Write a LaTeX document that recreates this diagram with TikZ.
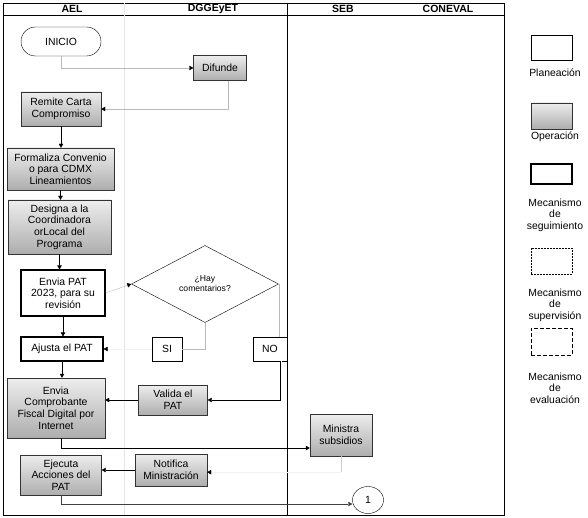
\documentclass[tikz,border=0pt]{standalone}
\usepackage{fontspec}
\setmainfont{Liberation Sans}
\usetikzlibrary{arrows.meta,shapes.geometric}

\begin{document}
\begin{tikzpicture}[x=1pt,y=-1pt,
    font=\fontsize{10.4}{11.6}\selectfont,
    head/.style={font=\fontsize{10.5}{12}\selectfont\bfseries},
    opbox/.style={rectangle, draw=black!80, top color=black!7, bottom color=black!32, align=center, inner sep=0pt},
    planbox/.style={rectangle, draw, line width=1.2pt, fill=white, align=center, inner sep=0pt},
    optbox/.style={rectangle, draw, fill=white, align=center, inner sep=0pt},
    arr/.style={-{Triangle[length=4pt,width=4.5pt]}},
    garr/.style={draw=gray!55, -{Triangle[length=4pt,width=4.5pt,color=black]}},
    faint/.style={draw=gray!10, -{Triangle[length=4pt,width=4.5pt,color=black]}},
    gline/.style={draw=gray!55}]

\useasboundingbox (0,0) rectangle (588,518);

% Lanes
\draw (3,3) rectangle (504,515);
\draw (3,15) -- (504,15);
\draw[gray!20] (124,3) -- (124,515);
\draw (287,3) -- (287,515);

\node[head] (hael) at (72,9) {AEL};
\node[head] (hdgg) at (213,9) {DGGEyET};
\node[head] (hseb) at (343,9) {SEB};
\node[head] (hcon) at (448,9) {CONEVAL};

% Steps
\node[draw, rounded corners=14.5pt, minimum width=80, minimum height=29] (inicio) at (61,41.5) {INICIO};
\node[opbox, minimum width=53, minimum height=25] (difunde) at (220,68) {Difunde};
\node[opbox, minimum width=80, minimum height=34] (remite) at (61,109) {Remite Carta\\Compromiso};
\node[opbox, minimum width=107, minimum height=42] (formaliza) at (60.5,169) {Formaliza Convenio\\o para CDMX\\Lineamientos};
\node[opbox, minimum width=103, minimum height=54] (designa) at (59.5,227) {Designa a la\\Coordinadora\\orLocal del\\Programa};
\node[planbox, minimum width=84, minimum height=46] (envia) at (63,293) {Envia PAT\\2023, para su\\revisión};
\node[diamond, draw, fill=white, inner sep=0pt, minimum width=147, minimum height=77,
      align=center, font=\fontsize{8.6}{10}\selectfont] (hay) at (205,284) {¿Hay\\comentarios?};
\node[planbox, minimum width=82, minimum height=24] (ajusta) at (62,349) {Ajusta el PAT};
\node[optbox, minimum width=30, minimum height=24] (si) at (167,349) {SI};
\node[optbox, minimum width=34, minimum height=24] (no) at (270,349) {NO};
\node[opbox, minimum width=69, minimum height=30] (valida) at (173,400) {Valida el\\PAT};
\node[opbox, minimum width=98, minimum height=60] (comprob) at (56,408) {Envia\\Comprobante\\Fiscal Digital por\\Internet};
\node[opbox, minimum width=62, minimum height=42] (ministra) at (341,435) {Ministra\\subsidios};
\node[opbox, minimum width=72, minimum height=32] (notifica) at (171,470) {Notifica\\Ministración};
\node[opbox, minimum width=81, minimum height=40] (ejecuta) at (61,475) {Ejecuta\\Acciones del\\PAT};
\node[ellipse, draw, fill=white, minimum width=31, minimum height=27, inner sep=0pt] (uno) at (368,500) {1};

% Connectors
\draw[garr] (inicio.south) |- (difunde.west);
\draw[garr] ([xshift=8pt]difunde.south) |- (remite.east);
\draw[arr] (remite.south) -- (remite.south |- formaliza.north);
\draw[arr] (formaliza.south) -- (formaliza.south |- designa.north);
\draw[arr] (designa.south) -- (designa.south |- envia.north);
\draw[garr] (envia.east) -- (hay.west);
\draw[arr] (envia.south) -- (envia.south |- ajusta.north);
\draw[gline] (hay.south) |- (si.east);
\draw[faint] (si.west) -- (ajusta.east);
\draw[gline] (hay.east) -- (hay.east |- no.north);
\draw[double, double distance=1pt] ([xshift=11pt]no.south) -- ([xshift=11pt]no.south |- valida.east) coordinate (nv);
\draw[arr] (nv) -- (valida.east);
\draw[arr] (valida.west) -- (valida.west -| comprob.east);
\draw[arr] (ajusta.south) -- (ajusta.south |- comprob.north);
\draw[arr] ([xshift=5pt]comprob.south) |- ([yshift=-13pt]ministra.west);
\draw[gray!40] (ministra.south) -- ++(0,16) coordinate (mb);
\draw[faint] (mb) -- (mb -| notifica.east);
\draw[arr] (notifica.west) -- (notifica.west -| ejecuta.east);
\draw[arr, draw=black!75] (ejecuta.south) |- ([yshift=-4pt]uno.west);

% Legend
\node[optbox, minimum width=41, minimum height=25] (lplan) at (551.5,47.5) {};
\node (tplan) at (555,73) {Planeación};
\node[opbox, minimum width=41, minimum height=26] (lop) at (551.5,116) {};
\node (top) at (555,137) {Operación};
\node[planbox, minimum width=41, minimum height=20] (lseg) at (551.5,174) {};
\node[align=center] (tseg) at (555,215) {Mecanismo\\de\\seguimiento};
\node[optbox, dash pattern=on 2pt off 1pt, minimum width=41, minimum height=26] (lsup) at (551.5,261) {};
\node[align=center] (tsup) at (555,305) {Mecanismo\\de\\supervisión};
\node[optbox, dash pattern=on 4pt off 2pt, minimum width=41, minimum height=27] (leva) at (551.5,341.5) {};
\node[align=center] (teva) at (555,388) {Mecanismo\\de\\evaluación};

\end{tikzpicture}
\end{document}
